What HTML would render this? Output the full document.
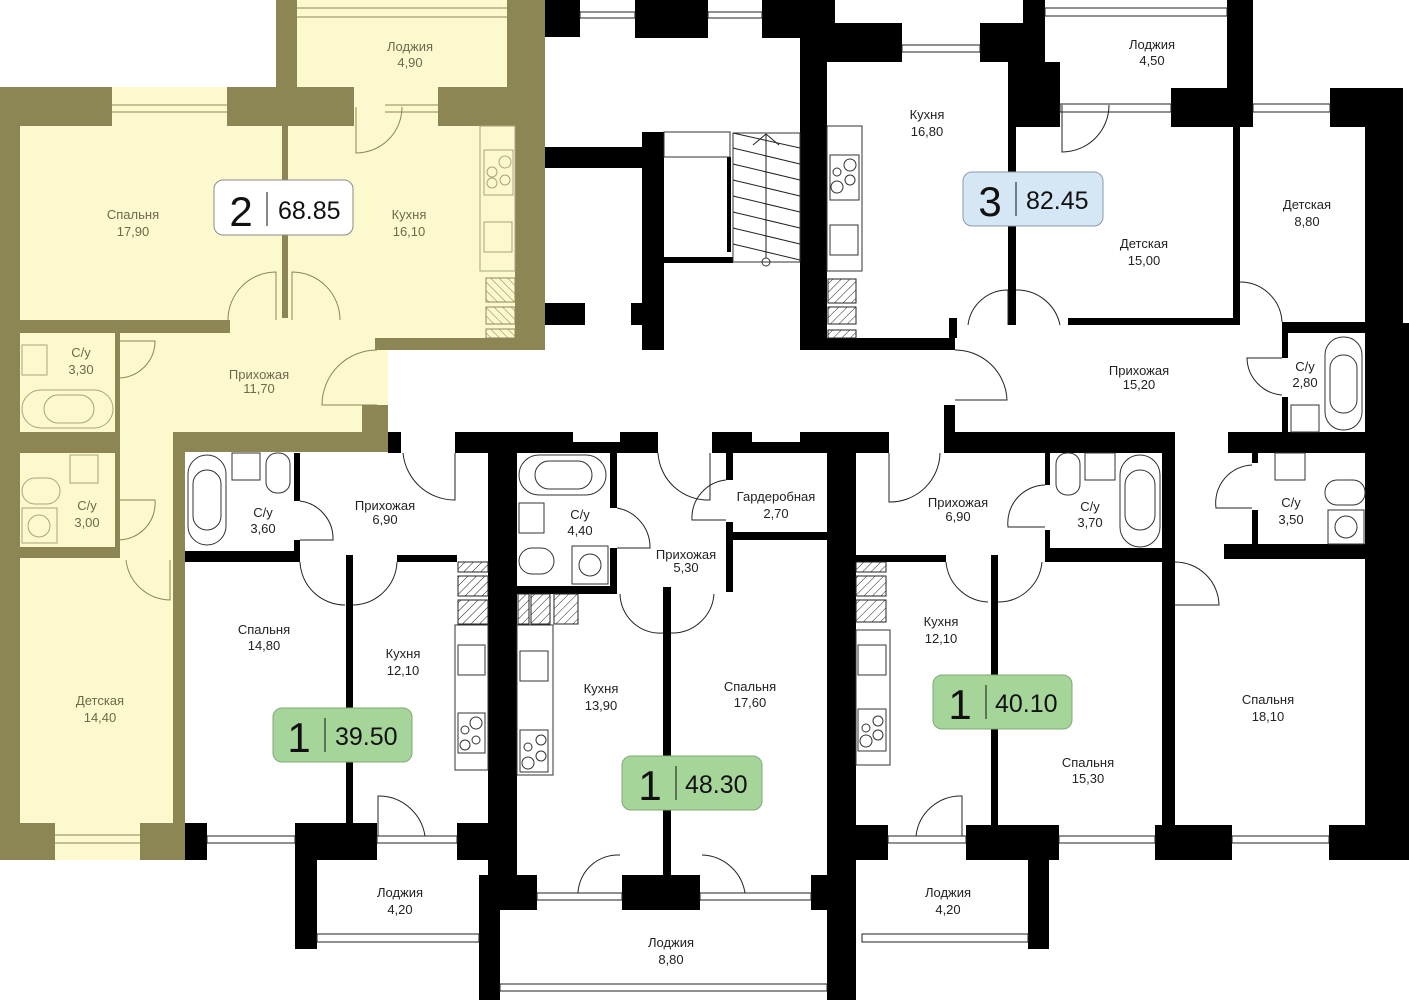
<!DOCTYPE html>
<html><head><meta charset="utf-8"><style>
html,body{margin:0;padding:0;background:#fff;}
svg{display:block;}
text{font-family:"Liberation Sans",sans-serif;}
.l{font-size:13px;fill:#222;text-anchor:middle;}
.lo{font-size:13px;fill:#6d6a4c;text-anchor:middle;}
.fx{fill:none;stroke:#333;stroke-width:1;}
.fxo{fill:none;stroke:#a8a47c;stroke-width:1;}
.dr{fill:none;stroke:#222;stroke-width:1;}
.dro{fill:none;stroke:#8b8654;stroke-width:1;}
.win{fill:#fff;stroke:#222;stroke-width:1;}
.wino{fill:#fcf9cf;stroke:#8b8654;stroke-width:1;}
.h{fill:url(#hat);stroke:#222;stroke-width:1;}
.ho{fill:url(#hato);stroke:#8b8654;stroke-width:1;}
</style></head><body>
<svg width="1409" height="1000" viewBox="0 0 1409 1000" xmlns="http://www.w3.org/2000/svg">
<defs>
<pattern id="hat" width="6" height="6" patternUnits="userSpaceOnUse" patternTransform="rotate(45)"><rect width="6" height="6" fill="#fff"/><line x1="0" y1="0" x2="0" y2="6" stroke="#222" stroke-width="1"/></pattern>
<pattern id="hato" width="6" height="6" patternUnits="userSpaceOnUse" patternTransform="rotate(-45)"><rect width="6" height="6" fill="#fcf9cf"/><line x1="0" y1="0" x2="0" y2="6" stroke="#8b8654" stroke-width="1"/></pattern>
</defs>
<rect width="1409" height="1000" fill="#fff"/>

<!-- ===== OLIVE APARTMENT ===== -->
<g fill="#8b8654">
<rect x="276" y="0" width="269" height="350"/>
<rect x="0" y="87" width="545" height="263"/>
<rect x="0" y="320" width="388" height="132"/>
<rect x="0" y="452" width="185" height="408"/>
</g>
<g fill="#fcf9cf">
<rect x="297" y="0" width="210" height="87"/>
<rect x="112" y="87" width="115" height="39"/>
<rect x="354" y="87" width="84" height="39"/>
<rect x="20" y="126" width="262" height="194"/>
<rect x="288" y="126" width="227" height="212"/>
<rect x="230" y="318" width="110" height="16"/>
<rect x="120" y="333" width="242" height="99"/>
<rect x="330" y="338" width="45" height="67"/>
<rect x="375" y="350" width="13" height="55"/>
<rect x="20" y="333" width="95" height="99"/>
<rect x="20" y="453" width="95" height="94"/>
<rect x="120" y="432" width="53" height="130"/>
<rect x="20" y="558" width="153" height="265"/>
<rect x="55" y="823" width="85" height="37"/>
</g>
<g stroke="#8b8654" stroke-width="1">
<line x1="297" y1="8" x2="507" y2="8"/><line x1="297" y1="17" x2="507" y2="17"/>
<line x1="112" y1="105" x2="227" y2="105"/><line x1="112" y1="112" x2="227" y2="112"/>
<line x1="385" y1="105" x2="438" y2="105"/><line x1="385" y1="112" x2="438" y2="112"/>
<line x1="55" y1="835" x2="140" y2="835"/><line x1="55" y1="843" x2="140" y2="843"/>
</g>
<!-- olive doors -->
<path class="dro" d="M356,107 L356,153 A46,46 0 0 0 402,107"/>
<path class="dro" d="M276,320 L276,272 A48,48 0 0 0 228,320"/>
<path class="dro" d="M292,320 L292,272 A48,48 0 0 1 340,320"/>
<path class="dro" d="M377,405 L322,405 A55,55 0 0 1 377,350"/>
<path class="dro" d="M118,341 L155,341 A37,37 0 0 1 118,378"/>
<path class="dro" d="M118,500 L155,500 A37,37 0 0 1 118,540"/>
<path class="dro" d="M170,560 L170,600 A45,45 0 0 1 126,560"/>
<!-- olive fixtures -->
<rect class="fxo" x="480" y="126" width="35" height="145"/>
<rect class="fxo" x="484" y="150" width="29" height="45"/>
<circle class="fxo" cx="505" cy="162" r="6"/><circle class="fxo" cx="492" cy="172" r="5"/><circle class="fxo" cx="505" cy="180" r="5"/><circle class="fxo" cx="492" cy="183" r="5"/>
<rect class="fxo" x="484" y="222" width="28" height="30"/>
<rect class="ho" x="486" y="278" width="29" height="24"/><rect class="ho" x="486" y="307" width="29" height="17"/><rect class="ho" x="486" y="329" width="29" height="9"/>
<rect class="fxo" x="22" y="390" width="91" height="38" rx="19"/><rect class="fxo" x="44" y="395" width="50" height="28" rx="14"/>
<rect class="fxo" x="22" y="345" width="25" height="30"/>
<rect class="fxo" x="70" y="455" width="28" height="28"/><rect class="fxo" x="22" y="478" width="38" height="26" rx="13"/><rect class="fxo" x="22" y="508" width="35" height="35"/><circle class="fxo" cx="39" cy="526" r="11"/>

<!-- ===== BLACK WALLS ===== -->
<g fill="#000">
<!-- top -->
<rect x="545" y="0" width="35" height="37"/>
<rect x="635" y="0" width="73" height="38"/>
<rect x="762" y="0" width="73" height="38"/>
<rect x="800" y="23" width="102" height="39"/>
<rect x="800" y="38" width="27" height="312"/>
<rect x="980" y="23" width="65" height="39"/>
<rect x="1023" y="0" width="22" height="88"/>
<rect x="1008" y="62" width="52" height="65"/>
<rect x="1008" y="127" width="8" height="198"/>
<rect x="1227" y="0" width="26" height="127"/>
<rect x="1171" y="88" width="82" height="39"/>
<rect x="1330" y="88" width="37" height="39"/>
<rect x="1365" y="88" width="38" height="737"/>
<rect x="1403" y="323" width="6" height="537"/>
<rect x="1233" y="127" width="7" height="198"/>
<rect x="1068" y="318" width="172" height="7"/>
<rect x="1282" y="322" width="85" height="11"/>
<rect x="1282" y="333" width="6" height="25"/>
<rect x="1282" y="397" width="6" height="36"/>
<rect x="800" y="338" width="155" height="12"/>
<rect x="949" y="318" width="8" height="20"/>
<!-- stair core -->
<rect x="545" y="147" width="97" height="21"/>
<rect x="642" y="132" width="22" height="218"/>
<rect x="545" y="303" width="40" height="22"/>
<rect x="631" y="303" width="11" height="22"/>
<rect x="727" y="157" width="4" height="95"/>
<rect x="664" y="257" width="69" height="6"/>
<!-- corridor bottom -->
<rect x="388" y="432" width="13" height="21"/>
<rect x="455" y="432" width="118" height="21"/>
<rect x="455" y="442" width="203" height="11"/>
<rect x="620" y="432" width="38" height="21"/>
<rect x="712" y="432" width="40" height="21"/>
<rect x="712" y="442" width="138" height="11"/>
<rect x="800" y="432" width="89" height="21"/>
<rect x="944" y="405" width="11" height="48"/>
<rect x="955" y="432" width="220" height="21"/>
<rect x="1228" y="432" width="181" height="21"/>
<!-- 39.50 -->
<rect x="294" y="453" width="6" height="48"/>
<rect x="294" y="540" width="6" height="22"/>
<rect x="185" y="551" width="115" height="11"/>
<rect x="397" y="555" width="60" height="7"/>
<rect x="346" y="555" width="7" height="268"/>
<rect x="488" y="453" width="29" height="422"/>
<rect x="185" y="823" width="22" height="37"/>
<rect x="295" y="823" width="82" height="37"/>
<rect x="295" y="860" width="22" height="89"/>
<rect x="457" y="823" width="31" height="37"/>
<!-- 48.30 -->
<rect x="610" y="453" width="7" height="55"/>
<rect x="610" y="548" width="7" height="45"/>
<rect x="517" y="586" width="100" height="8"/>
<rect x="726" y="453" width="7" height="27"/>
<rect x="726" y="522" width="7" height="70"/>
<rect x="733" y="532" width="94" height="8"/>
<rect x="663" y="587" width="8" height="288"/>
<rect x="622" y="875" width="78" height="35"/>
<rect x="479" y="875" width="58" height="35"/>
<rect x="479" y="910" width="21" height="90"/>
<rect x="811" y="875" width="16" height="35"/>
<rect x="827" y="432" width="29" height="568"/>
<!-- 40.10 -->
<rect x="856" y="555" width="90" height="7"/>
<rect x="1045" y="453" width="5" height="32"/>
<rect x="1045" y="530" width="5" height="25"/>
<rect x="1045" y="548" width="117" height="14"/>
<rect x="1162" y="453" width="13" height="372"/>
<rect x="991" y="555" width="7" height="270"/>
<rect x="856" y="825" width="32" height="35"/>
<rect x="966" y="825" width="93" height="35"/>
<rect x="1028" y="860" width="21" height="89"/>
<rect x="1155" y="825" width="77" height="35"/>
<rect x="1329" y="825" width="80" height="35"/>
<rect x="1252" y="453" width="6" height="10"/>
<rect x="1252" y="510" width="6" height="40"/>
<rect x="1224" y="544" width="143" height="15"/>
</g>
<!-- windows -->
<g class="win">
<rect x="580" y="12" width="55" height="6"/>
<rect x="708" y="12" width="54" height="6"/>
<rect x="902" y="45" width="78" height="7"/>
<rect x="1045" y="8" width="182" height="8"/>
<rect x="1060" y="104" width="111" height="8"/>
<rect x="1253" y="104" width="77" height="8"/>
<rect x="207" y="836" width="88" height="7"/>
<rect x="377" y="836" width="80" height="7"/>
<rect x="317" y="934" width="162" height="8"/>
<rect x="537" y="893" width="85" height="7"/>
<rect x="700" y="893" width="111" height="7"/>
<rect x="500" y="984" width="327" height="7"/>
<rect x="888" y="836" width="78" height="7"/>
<rect x="1059" y="836" width="96" height="7"/>
<rect x="1232" y="836" width="97" height="7"/>
<rect x="862" y="934" width="166" height="8"/>
</g>
<!-- stair -->
<rect class="fx" x="664" y="132" width="66" height="25"/>
<rect class="fx" x="733" y="133" width="67" height="129"/>
<g stroke="#222" stroke-width="1">
<line x1="733" y1="133" x2="800" y2="148"/><line x1="733" y1="148" x2="800" y2="164"/><line x1="733" y1="164" x2="800" y2="180"/><line x1="733" y1="180" x2="800" y2="196"/><line x1="733" y1="196" x2="800" y2="212"/><line x1="733" y1="212" x2="800" y2="228"/><line x1="733" y1="228" x2="800" y2="244"/><line x1="733" y1="244" x2="800" y2="260"/>
<line x1="766" y1="134" x2="766" y2="258"/><line x1="753" y1="145" x2="766" y2="134"/><line x1="766" y1="134" x2="779" y2="145"/>
</g>
<circle class="fx" cx="766" cy="262" r="4"/>
<!-- black doors -->
<path class="dr" d="M1016,290 A44,44 0 0 1 1060,325 M1008,325 L1008,290 A40,40 0 0 0 968,325"/>
<path class="dr" d="M1240,282 A42,42 0 0 1 1282,322"/>
<path class="dr" d="M955,350 A52,52 0 0 1 1007,400 L955,400"/>
<path class="dr" d="M1282,358 L1247,358 A38,38 0 0 0 1282,395"/>
<path class="dr" d="M1062,105 L1062,152 A47,47 0 0 0 1109,105"/>
<path class="dr" d="M403,453 A52,52 0 0 0 455,500 L455,453"/>
<path class="dr" d="M300,501 A38,38 0 0 1 333,540 L300,540"/>
<path class="dr" d="M300,562 A45,45 0 0 0 345,605 M353,605 A45,45 0 0 0 397,562"/>
<path class="dr" d="M617,508 A40,40 0 0 1 650,548 L617,548"/>
<path class="dr" d="M658,453 A50,50 0 0 0 710,500 L710,453"/>
<path class="dr" d="M726,480 A38,38 0 0 0 692,520 L726,520"/>
<path class="dr" d="M620,594 A40,40 0 0 0 663,633 M671,633 A42,42 0 0 0 714,594"/>
<path class="dr" d="M578,893 A40,40 0 0 1 620,855 M702,855 A45,45 0 0 1 745,893"/>
<path class="dr" d="M378,836 L378,796 A47,47 0 0 1 425,836"/>
<path class="dr" d="M889,453 L889,502 A50,50 0 0 0 940,453"/>
<path class="dr" d="M1045,485 A38,38 0 0 0 1008,527 L1045,527"/>
<path class="dr" d="M946,562 A44,44 0 0 0 988,602 M998,602 A44,44 0 0 0 1042,562"/>
<path class="dr" d="M916,836 A45,45 0 0 1 962,796 L962,836"/>
<path class="dr" d="M1252,465 A38,38 0 0 0 1216,508 L1252,508"/>
<path class="dr" d="M1175,562 A44,44 0 0 1 1219,605 L1175,605"/>
<!-- black fixtures -->
<rect class="fx" x="827" y="126" width="35" height="145"/>
<rect class="fx" x="830" y="155" width="29" height="45"/><circle class="fx" cx="850" cy="165" r="6"/><circle class="fx" cx="837" cy="172" r="4"/><circle class="fx" cx="850" cy="180" r="5"/><circle class="fx" cx="837" cy="187" r="6"/>
<rect class="fx" x="830" y="225" width="28" height="30"/>
<rect class="h" x="828" y="279" width="28" height="24"/><rect class="h" x="828" y="307" width="28" height="17"/><rect class="h" x="828" y="330" width="28" height="8"/>
<rect class="fx" x="1325" y="337" width="37" height="93" rx="18"/><rect class="fx" x="1330" y="355" width="27" height="58" rx="13"/>
<rect class="fx" x="1291" y="405" width="28" height="27"/>
<rect class="fx" x="188" y="455" width="38" height="90" rx="19"/><rect class="fx" x="193" y="470" width="28" height="60" rx="14"/>
<rect class="fx" x="232" y="453" width="28" height="27"/><rect class="fx" x="266" y="453" width="24" height="40" rx="11"/>
<rect class="fx" x="519" y="455" width="87" height="40" rx="20"/><rect class="fx" x="535" y="461" width="57" height="28" rx="14"/>
<rect class="fx" x="519" y="503" width="25" height="30"/><rect class="fx" x="519" y="548" width="35" height="26" rx="13"/><rect class="fx" x="572" y="546" width="36" height="38"/><circle class="fx" cx="590" cy="565" r="11"/>
<rect class="fx" x="1120" y="455" width="40" height="92" rx="20"/><rect class="fx" x="1125" y="470" width="30" height="60" rx="15"/>
<rect class="fx" x="1085" y="453" width="30" height="27"/><rect class="fx" x="1056" y="453" width="24" height="42" rx="11"/>
<rect class="fx" x="1275" y="453" width="30" height="27"/><rect class="fx" x="1325" y="480" width="40" height="25" rx="12"/><rect class="fx" x="1328" y="510" width="36" height="34"/><circle class="fx" cx="1346" cy="527" r="11"/>
<rect class="h" x="458" y="562" width="30" height="10"/><rect class="h" x="458" y="576" width="30" height="20"/><rect class="h" x="458" y="600" width="30" height="24"/>
<rect class="fx" x="455" y="625" width="33" height="145"/><rect class="fx" x="458" y="645" width="27" height="30"/><rect class="fx" x="458" y="713" width="27" height="40"/><circle class="fx" cx="476" cy="723" r="6"/><circle class="fx" cx="465" cy="730" r="4"/><circle class="fx" cx="476" cy="740" r="4"/><circle class="fx" cx="465" cy="745" r="5"/>
<rect class="h" x="518" y="594" width="11" height="30"/><rect class="h" x="531" y="594" width="19" height="30"/><rect class="h" x="554" y="594" width="24" height="30"/>
<rect class="fx" x="517" y="625" width="36" height="150"/><rect class="fx" x="520" y="651" width="28" height="30"/><rect class="fx" x="520" y="730" width="28" height="42"/><circle class="fx" cx="541" cy="740" r="5"/><circle class="fx" cx="528" cy="747" r="4"/><circle class="fx" cx="541" cy="756" r="5"/><circle class="fx" cx="528" cy="763" r="6"/>
<rect class="h" x="856" y="562" width="30" height="10"/><rect class="h" x="856" y="576" width="30" height="20"/><rect class="h" x="856" y="600" width="30" height="22"/>
<rect class="fx" x="856" y="630" width="34" height="135"/><rect class="fx" x="858" y="645" width="28" height="30"/><rect class="fx" x="858" y="709" width="28" height="42"/><circle class="fx" cx="878" cy="721" r="5"/><circle class="fx" cx="866" cy="728" r="4"/><circle class="fx" cx="878" cy="735" r="5"/><circle class="fx" cx="866" cy="741" r="6"/>

<!-- ===== BADGES ===== -->
<rect x="214" y="180" width="139" height="55" rx="9" fill="#fff" stroke="#8a8a8a" stroke-width="1"/>
<text x="241" y="226" font-size="42" fill="#111" text-anchor="middle">2</text><line x1="267" y1="192" x2="267" y2="226" stroke="#111"/><text x="278" y="219" font-size="25" fill="#111">68.85</text>
<rect x="963" y="172" width="140" height="54" rx="9" fill="#d5e6f5" stroke="#8a9aaa" stroke-width="1"/>
<text x="990" y="216" font-size="42" fill="#111" text-anchor="middle">3</text><line x1="1016" y1="182" x2="1016" y2="216" stroke="#111"/><text x="1026" y="209" font-size="25" fill="#111">82.45</text>
<rect x="273" y="708" width="139" height="54" rx="9" fill="#a6d59a" stroke="#80a878" stroke-width="1"/>
<text x="299" y="752" font-size="42" fill="#111" text-anchor="middle">1</text><line x1="325" y1="718" x2="325" y2="752" stroke="#111"/><text x="335" y="745" font-size="25" fill="#111">39.50</text>
<rect x="622" y="756" width="140" height="54" rx="9" fill="#a6d59a" stroke="#80a878" stroke-width="1"/>
<text x="650" y="800" font-size="42" fill="#111" text-anchor="middle">1</text><line x1="676" y1="766" x2="676" y2="800" stroke="#111"/><text x="685" y="793" font-size="25" fill="#111">48.30</text>
<rect x="933" y="675" width="139" height="54" rx="9" fill="#a6d59a" stroke="#80a878" stroke-width="1"/>
<text x="960" y="719" font-size="42" fill="#111" text-anchor="middle">1</text><line x1="986" y1="685" x2="986" y2="719" stroke="#111"/><text x="995" y="712" font-size="25" fill="#111">40.10</text>

<!-- ===== LABELS ===== -->
<g class="lo">
<text x="410" y="51">Лоджия</text><text x="410" y="67">4,90</text>
<text x="133" y="219">Спальня</text><text x="133" y="236">17,90</text>
<text x="409" y="219">Кухня</text><text x="409" y="236">16,10</text>
<text x="81" y="357">С/у</text><text x="81" y="374">3,30</text>
<text x="259" y="379">Прихожая</text><text x="259" y="393">11,70</text>
<text x="87" y="510">С/у</text><text x="87" y="527">3,00</text>
<text x="100" y="705">Детская</text><text x="100" y="722">14,40</text>
</g>
<g class="l">
<text x="927" y="119">Кухня</text><text x="927" y="136">16,80</text>
<text x="1152" y="49">Лоджия</text><text x="1152" y="65">4,50</text>
<text x="1307" y="209">Детская</text><text x="1307" y="226">8,80</text>
<text x="1144" y="248">Детская</text><text x="1144" y="265">15,00</text>
<text x="1139" y="375">Прихожая</text><text x="1139" y="389">15,20</text>
<text x="1305" y="371">С/у</text><text x="1305" y="387">2,80</text>
<text x="263" y="517">С/у</text><text x="263" y="533">3,60</text>
<text x="385" y="510">Прихожая</text><text x="385" y="524">6,90</text>
<text x="580" y="519">С/у</text><text x="580" y="535">4,40</text>
<text x="776" y="501">Гардеробная</text><text x="776" y="518">2,70</text>
<text x="686" y="559">Прихожая</text><text x="686" y="572">5,30</text>
<text x="958" y="507">Прихожая</text><text x="958" y="521">6,90</text>
<text x="1090" y="511">С/у</text><text x="1090" y="527">3,70</text>
<text x="1291" y="507">С/у</text><text x="1291" y="524">3,50</text>
<text x="264" y="634">Спальня</text><text x="264" y="650">14,80</text>
<text x="403" y="658">Кухня</text><text x="403" y="675">12,10</text>
<text x="601" y="693">Кухня</text><text x="601" y="710">13,90</text>
<text x="750" y="691">Спальня</text><text x="750" y="707">17,60</text>
<text x="941" y="626">Кухня</text><text x="941" y="643">12,10</text>
<text x="1088" y="767">Спальня</text><text x="1088" y="783">15,30</text>
<text x="1268" y="704">Спальня</text><text x="1268" y="721">18,10</text>
<text x="400" y="897">Лоджия</text><text x="400" y="914">4,20</text>
<text x="671" y="947">Лоджия</text><text x="671" y="964">8,80</text>
<text x="948" y="897">Лоджия</text><text x="948" y="914">4,20</text>
</g>
</svg>
</body></html>
